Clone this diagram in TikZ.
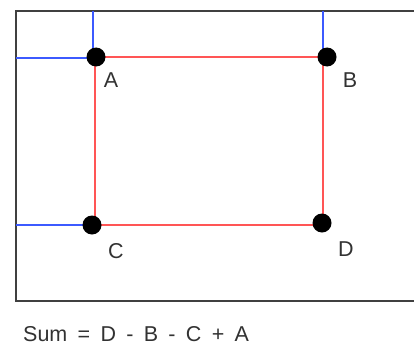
\documentclass[tikz,border=0pt]{standalone}
\usepackage{fontspec}
\setmainfont{Liberation Sans}
\usepackage{xcolor}
\usetikzlibrary{positioning}

\definecolor{regionred}{RGB}{255,85,85}
\definecolor{edgeblue}{RGB}{60,90,255}
\definecolor{labelgray}{RGB}{50,50,50}

\begin{document}
\begin{tikzpicture}[
x=1pt,y=-1pt,
corner/.style={
circle,
fill=black,
inner sep=0pt,
minimum size=19pt
},
cornerlabel/.style={
text=labelgray,
font=\fontsize{21.5}{24}\selectfont,
inner sep=0pt
},
frame/.style={draw=black!75,line width=2pt},
region/.style={draw=regionred,line width=2pt},
edge/.style={draw=edgeblue,line width=2pt}
]
\useasboundingbox (0,0) rectangle (414,345);

% Outer image frame
\draw[frame] (416,11) -- (16,11) -- (16,301) -- (416,301);

% Edge lines
\coordinate (topA) at (93,11);
\coordinate (leftA) at (16,58);
\coordinate (topB) at (323,11);
\coordinate (leftC) at (16,225);

\draw[edge] (topA) -- (93,57);
\draw[edge] (leftA) -- (95,58);
\draw[edge] (topB) -- (323,57);
\draw[edge] (leftC) -- (95,225);

% Region
\draw[region] (95,57) rectangle (323,225);

% Corners
\node[corner] (A) at (96,57) {};
\node[corner] (B) at (327,57) {};
\node[corner] (C) at (92,225) {};
\node[corner] (D) at (322,223) {};

\node[cornerlabel] at (111,80) {A};
\node[cornerlabel] at (350,80) {B};
\node[cornerlabel] at (116,251) {C};
\node[cornerlabel] at (346,249) {D};

% Formula
\node[cornerlabel,anchor=base west] (sum) at (23,341)
{\spaceskip=10.3pt Sum = D - B - C + A};

\end{tikzpicture}
\end{document}
